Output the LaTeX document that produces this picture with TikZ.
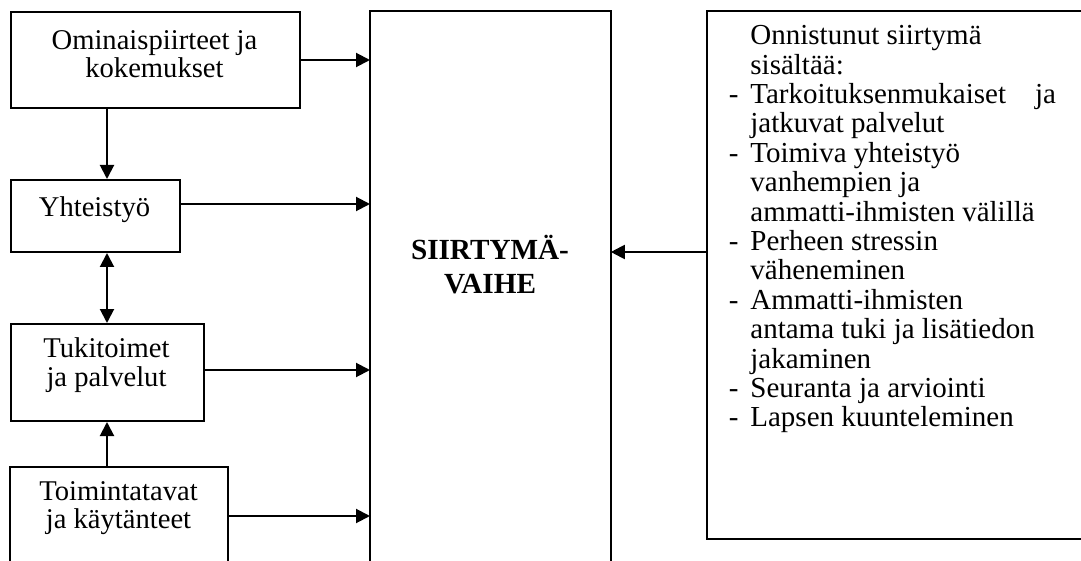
\documentclass[tikz,border=0pt]{standalone}
\usepackage{fontspec}
\setmainfont{Liberation Serif}
\usetikzlibrary{arrows.meta}

\begin{document}
\begin{tikzpicture}[x=0.5pt,y=-0.5pt,
  box/.style={draw, line width=1pt, inner sep=0pt, anchor=north west},
  openbox/.style={inner sep=0pt, anchor=north west},
  side/.style={draw, line width=1pt, line cap=rect},
  tip/.tip={Triangle[length=7pt,width=7pt]},
  arr/.style={line width=1pt, -tip},
  darr/.style={line width=1pt, tip-tip},
  txt/.style={font=\fontsize{14.3}{14.3}\selectfont, align=center, inner sep=0pt},
  head/.style={font=\fontsize{14.6}{17}\selectfont\bfseries, align=center, inner sep=0pt},
  list/.style={font=\fontsize{14.5}{14.7}\selectfont, align=left, inner sep=0pt, anchor=north west}]
\useasboundingbox (0,0) rectangle (1081,561);

% factor boxes on the left
\node[box, minimum width=144.5pt, minimum height=48pt] (b1) at (10,11) {};
\node[txt] at (154.5,54) {Ominaispiirteet ja\\kokemukset};
\node[box, minimum width=84.5pt, minimum height=36pt] (b2) at (10,179) {};
\node[txt] at (94.5,210) {Yhteisty\"o};
\node[box, minimum width=96.5pt, minimum height=48.5pt] (b3) at (10,323) {};
\node[txt] at (106.5,365) {Tukitoimet\\ja palvelut};
% lowest box runs off the bottom edge: only three sides are drawn
\node[openbox, minimum width=108.5pt, minimum height=80pt] (b4) at (10,467) {};
\draw[side] (b4.north west) -- (b4.south west)
            (b4.north west) -- (b4.north east)
            (b4.north east) -- (b4.south east);
\node[txt] at (118.5,508) {Toimintatavat\\ja k\"ayt\"anteet};

% central phase box, open at the bottom
\node[openbox, minimum width=120pt, minimum height=300pt] (phase) at (370,11) {};
\draw[side] (phase.north west) -- (phase.south west)
            (phase.north west) -- (phase.north east)
            (phase.north east) -- (phase.south east);
\node[head] at (490,265) {SIIRTYM\"A-\\VAIHE};

% outcome box on the right, open towards the right edge
\node[openbox, minimum width=300pt, minimum height=263.5pt] (out) at (707,11) {};
\draw[side] (out.north west) -- (out.north east)
            (out.north west) -- (out.south west)
            (out.south west) -- (out.south east);
\node[list] at (750,25) {Onnistunut siirtym\"a\\
sis\"alt\"a\"a:\\
\llap{-\hspace{6pt}}Tarkoituksenmukaiset\hspace{1em}ja\\
jatkuvat palvelut\\
\llap{-\hspace{6pt}}Toimiva yhteisty\"o\\
vanhempien ja\\
ammatti-ihmisten v\"alill\"a\\
\llap{-\hspace{6pt}}Perheen stressin\\
v\"aheneminen\\
\llap{-\hspace{6pt}}Ammatti-ihmisten\\
antama tuki ja lis\"atiedon\\
jakaminen\\
\llap{-\hspace{6pt}}Seuranta ja arviointi\\
\llap{-\hspace{6pt}}Lapsen kuunteleminen};

% connectors
\coordinate (v) at (107,0);
\coordinate (y1) at (0,60);
\coordinate (y2) at (0,204);
\coordinate (y3) at (0,370);
\coordinate (y4) at (0,516);
\coordinate (y5) at (0,252);
\draw[arr] (b1.south -| v) -- (b2.north -| v);
\draw[darr] (b2.south -| v) -- (b3.north -| v);
\draw[arr] (b4.north -| v) -- (b3.south -| v);
\draw[arr] (b1.east |- y1) -- (phase.west |- y1);
\draw[arr] (b2.east |- y2) -- (phase.west |- y2);
\draw[arr] (b3.east |- y3) -- (phase.west |- y3);
\draw[arr] (b4.east |- y4) -- (phase.west |- y4);
\draw[arr] (out.west |- y5) -- (phase.east |- y5);
\end{tikzpicture}
\end{document}
